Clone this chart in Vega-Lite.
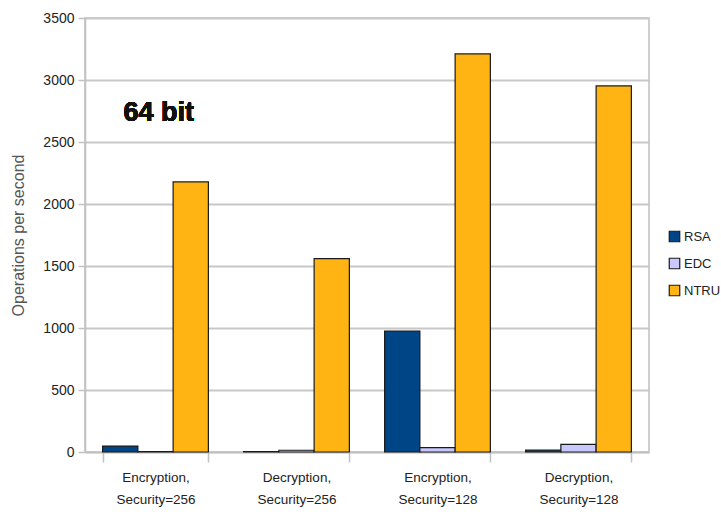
{
  "$schema": "https://vega.github.io/schema/vega-lite/v6.json",
  "autosize": "none",
  "width": 564,
  "height": 434,
  "padding": {"left": 85, "top": 18, "right": 72, "bottom": 65},
  "background": "white",
  "config": {
    "font": "Liberation Sans",
    "view": {"stroke": "#c0c0c0", "strokeWidth": 1.5}
  },
  "data": {
    "values": [
      {"op": "Encryption, Security=256", "alg": "RSA", "ops": 48},
      {"op": "Encryption, Security=256", "alg": "EDC", "ops": 3},
      {"op": "Encryption, Security=256", "alg": "NTRU", "ops": 2178},
      {"op": "Decryption, Security=256", "alg": "RSA", "ops": 3},
      {"op": "Decryption, Security=256", "alg": "EDC", "ops": 14},
      {"op": "Decryption, Security=256", "alg": "NTRU", "ops": 1560},
      {"op": "Encryption, Security=128", "alg": "RSA", "ops": 976},
      {"op": "Encryption, Security=128", "alg": "EDC", "ops": 35},
      {"op": "Encryption, Security=128", "alg": "NTRU", "ops": 3210},
      {"op": "Decryption, Security=128", "alg": "RSA", "ops": 15},
      {"op": "Decryption, Security=128", "alg": "EDC", "ops": 62},
      {"op": "Decryption, Security=128", "alg": "NTRU", "ops": 2952}
    ]
  },
  "layer": [
    {
      "mark": {"type": "bar", "stroke": "#1a1a1a", "strokeWidth": 1.2},
      "encoding": {
        "x": {
          "field": "op", "type": "nominal", "sort": null,
          "scale": {"paddingInner": 0.25, "paddingOuter": 0.125},
          "axis": {
            "title": null, "labelAngle": 0, "tickBand": "extent",
            "labelExpr": "isValid(datum.value) ? [split(datum.value, ' ')[0], split(datum.value, ' ')[1]] : ''",
            "labelFontSize": 13.5, "labelColor": "#222", "labelLineHeight": 22,
            "labelPadding": 8, "tickSize": 10, "tickColor": "#c0c0c0", "tickWidth": 1.5,
            "domainColor": "#c0c0c0", "domainWidth": 1.5
          }
        },
        "xOffset": {"field": "alg", "type": "nominal", "sort": ["RSA", "EDC", "NTRU"], "scale": {"paddingInner": 0, "paddingOuter": 0}},
        "y": {
          "field": "ops", "type": "quantitative",
          "scale": {"domain": [0, 3500], "nice": false},
          "axis": {
            "title": "Operations per second", "values": [0, 500, 1000, 1500, 2000, 2500, 3000, 3500], "format": "d",
            "titleFontSize": 16, "titleFontWeight": "normal", "titleColor": "#555", "titlePadding": 16,
            "labelFontSize": 14, "labelColor": "#222", "labelPadding": 4,
            "tickSize": 7, "tickColor": "#c0c0c0", "tickWidth": 1.5,
            "gridColor": "#c8c8c8", "gridWidth": 2,
            "domainColor": "#c0c0c0", "domainWidth": 1.5
          }
        },
        "color": {
          "field": "alg", "type": "nominal",
          "scale": {"domain": ["RSA", "EDC", "NTRU"], "range": ["#004586", "#c8c8ff", "#ffb414"]},
          "legend": {
            "title": null, "orient": "none", "legendX": 583, "legendY": 212,
            "symbolType": "square", "symbolSize": 110, "symbolStrokeColor": "#1a1a1a", "symbolStrokeWidth": 1.2,
            "labelFontSize": 13, "labelColor": "#222", "labelOffset": 3, "rowPadding": 10
          }
        }
      }
    },
    {
      "mark": {"type": "text", "text": "64 bit", "fontSize": 27, "fontWeight": "bold", "font": "Liberation Sans", "align": "left", "dx": -32, "color": "#111"},
      "encoding": {
        "x": {"datum": "Encryption, Security=256", "type": "nominal"},
        "y": {"datum": 2730, "type": "quantitative"}
      }
    }
  ]
}
